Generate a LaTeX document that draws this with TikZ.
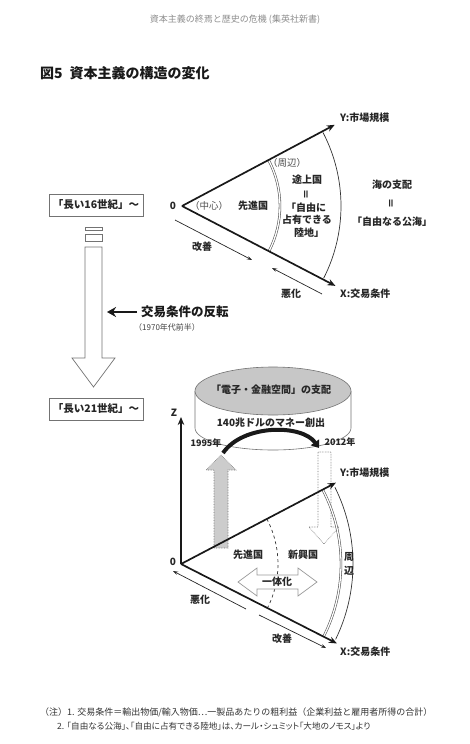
\documentclass[tikz,border=0pt]{standalone}
\usepackage{fontspec}
\setmainfont{Noto Sans CJK JP}
\usetikzlibrary{arrows.meta,calc}
\begin{document}
\begin{tikzpicture}[x=1pt,y=-1pt,
  txt/.style={inner sep=0pt, text=black!85, font=\fontsize{10}{12}\selectfont\bfseries},
  lite/.style={inner sep=0pt, text=black!70, font=\fontsize{9.5}{11}\selectfont},
  small/.style={inner sep=0pt, text=black!75, font=\fontsize{8}{9}\selectfont},
  note/.style={inner sep=0pt, anchor=west, text=black!80, font=\fontsize{8.5}{10}\selectfont},
  axisline/.style={line width=1.7pt, draw=black!90, -{Stealth[length=8pt,width=6.5pt]}},
  thinarrow/.style={line width=0.7pt, draw=black!85, -{Stealth[length=5pt,width=3.5pt]}},
  ringdouble/.style={draw=black!70, double=white, double distance=1.3pt, line width=0.55pt},
  ring/.style={draw=black!80, line width=0.7pt},
  framebox/.style={draw=black!55, line width=0.7pt, inner sep=0pt, minimum width=94pt, minimum height=22pt, font=\fontsize{10.5}{12}\selectfont\bfseries, text=black!85},
  hollow/.style={draw=black!55, line width=0.7pt, fill=white},
  dotarrow/.style={draw=black!55, line width=0.6pt, densely dotted},
]
\useasboundingbox (0,0) rectangle (469,744);

% header and title
\node[inner sep=0pt, text=black!45, font=\fontsize{9}{10}\selectfont] (hdr) at (235,20) {資本主義の終焉と歴史の危機 (集英社新書)};
\node[anchor=west, inner sep=0pt, text=black!90, font=\fontsize{14}{16}\selectfont\bfseries] (ttl) at (40,73) {図5\hspace{7pt}資本主義の構造の変化};

% ================= top diagram =================
\coordinate (o1) at (182,206);
\coordinate (y1) at ($(o1)+(-28:173)$);
\coordinate (x1) at ($(o1)+(27.5:173)$);
\draw[ringdouble] ($(o1)+(-28:98)$) arc[start angle=-28,end angle=27.5,radius=98];
\draw[ring] ($(o1)+(-27.5:159)$) arc[start angle=-27.5,end angle=27,radius=159];
\draw[axisline] (o1) -- (y1);
\draw[axisline] (o1) -- (x1);

\node[txt] (zero1) at (173,206) {0};
\node[lite] (chushin) at (209,206) {（中心）};
\node[txt] (senshin1) at (253,206) {先進国};
\node[lite] (shuhen1) at (287,163) {（周辺）};
\node[txt] (tojo) at (307,180) {途上国};
\node[txt, rotate=90] (eq1) at (307,194) {＝};
\node[txt] (jiyu1) at (306,208) {「自由に};
\node[txt] (senyu) at (307,220) {占有できる};
\node[txt] (rikuchi) at (309,233) {陸地」};
\node[txt] (umi) at (392,185) {海の支配};
\node[txt, rotate=90] (eq2) at (392,203) {＝};
\node[txt] (kokai) at (392,222) {「自由なる公海」};
\node[txt, anchor=west] (ylab1) at (340,118) {Y:市場規模};
\node[txt, anchor=west] (xlab1) at (340,294) {X:交易条件};

\coordinate (kA) at (175,220);
\coordinate (kB) at (252,260);
\draw[thinarrow] (kA) -- (kB);
\node[txt] (kaizen1) at (202,247) {改善};
\coordinate (aA) at (322,294);
\coordinate (aB) at (272,268);
\draw[thinarrow] (aA) -- (aB);
\node[txt] (akka1) at (291,294) {悪化};

% ================= left column =================
\node[framebox] (b16) at (96,205) {「長い16世紀」〜};
\draw[hollow] (85,227) rectangle (102,230.5);
\draw[hollow] (85,234) rectangle (102,241.5);
\draw[hollow] (85,247) -- (85,358) -- (72,358) -- (93.5,387) -- (115,358) -- (102,358) -- (102,247) -- cycle;

\coordinate (hA) at (137,312);
\coordinate (hB) at (107,312);
\draw[line width=2.8pt, draw=black!90, -{Stealth[length=9pt,width=10pt]}] (hA) -- (hB);
\node[anchor=west, inner sep=0pt, text=black!90, font=\fontsize{12.5}{14}\selectfont\bfseries] (rev) at (141,312) {交易条件の反転};
\node[small, anchor=west] (yr) at (134,327) {（1970年代前半）};

\node[framebox] (b21) at (96,409) {「長い21世紀」〜};

% ================= bottom diagram =================
% cylinder
\fill[white] (195,391) -- (195,428) arc[start angle=180,end angle=0,x radius=78,y radius=22] -- (351,391) -- cycle;
\draw[draw=black!55, line width=0.6pt] (195,391) -- (195,428) arc[start angle=180,end angle=0,x radius=78,y radius=22] -- (351,391);
\draw[draw=black!55, line width=0.6pt, fill=black!22] (273,391) ellipse[x radius=78, y radius=24];
\node[txt] (denshi) at (271,390) {「電子・金融空間」の支配};
\node[txt] (money) at (271,423) {140兆ドルのマネー創出};

% gray arrows
\draw[dotarrow, fill=black!20] (214,548) -- (214,470) -- (206,470) -- (221,455) -- (236,470) -- (228,470) -- (228,548) -- cycle;
\draw[dotarrow, fill=white] (318,452) -- (318,527) -- (309,527) -- (324,544) -- (339,527) -- (331,527) -- (331,452) -- cycle;

% black curved arrow
\coordinate (c95) at (223,453);
\coordinate (c12) at (319,448);
\draw[line width=4pt, draw=black!90, -{Triangle[length=7pt,width=10pt]}] (c95) .. controls (243,424) and (302,424) .. (c12);
\node[txt, font=\fontsize{9}{10}\selectfont\bfseries] (y95) at (206,443) {1995年};
\node[txt, font=\fontsize{9}{10}\selectfont\bfseries] (y12) at (340,442) {2012年};

% axes and arcs
\coordinate (o2) at (181,564);
\coordinate (z2) at (181,417);
\coordinate (y2) at ($(o2)+(-27.7:175)$);
\coordinate (x2) at ($(o2)+(27:175)$);
\draw[dashed, draw=black!80, line width=0.7pt] ($(o2)+(-27.7:97)$) arc[start angle=-27.7,end angle=27,radius=97];
\draw[ringdouble] ($(o2)+(-27.7:160)$) arc[start angle=-27.7,end angle=27,radius=160];
\draw[ring] ($(o2)+(-26.5:172)$) arc[start angle=-26.5,end angle=26,radius=172];
\draw[axisline, line width=1.5pt] (o2) -- (z2);
\draw[axisline] (o2) -- (y2);
\draw[axisline] (o2) -- (x2);

% integration arrow
\draw[draw=black!40, line width=0.7pt, fill=white] (238,582) -- (257,568) -- (257,575) -- (298,575) -- (298,568) -- (317,582) -- (298,596) -- (298,589) -- (257,589) -- (257,596) -- cycle;
\node[txt] (ittai) at (277,582) {一体化};

\node[txt] (zero2) at (173,562) {0};
\node[txt] (zlab) at (174,413) {Z};
\node[txt] (senshin2) at (248,555) {先進国};
\node[txt] (shinko) at (303,555) {新興国};
\node[txt] (shu) at (349,557) {周};
\node[txt] (hen) at (349,571) {辺};
\node[txt, anchor=west] (ylab2) at (340,473) {Y:市場規模};
\node[txt, anchor=west] (xlab2) at (340,652) {X:交易条件};

\coordinate (bA) at (246,609);
\coordinate (bB) at (173,571);
\draw[thinarrow] (bA) -- (bB);
\node[txt] (akka2) at (200,600) {悪化};
\coordinate (gA) at (259,615);
\coordinate (gB) at (326,648);
\draw[thinarrow] (gA) -- (gB);
\node[txt] (kaizen2) at (282,639) {改善};

% footnotes
\node[note, font=\fontsize{9}{10}\selectfont] (fn1) at (40,712) {（注）1. 交易条件＝輸出物価/輸入物価…一製品あたりの粗利益（企業利益と雇用者所得の合計）};
\node[note, font=\fontsize{8.6}{10}\selectfont\addfontfeatures{RawFeature=+palt}] (fn2) at (57,726) {2.\hspace{2.5pt}「自由なる公海」、「自由に占有できる陸地」は、カール・シュミット「大地のノモス」より};
\end{tikzpicture}
\end{document}
